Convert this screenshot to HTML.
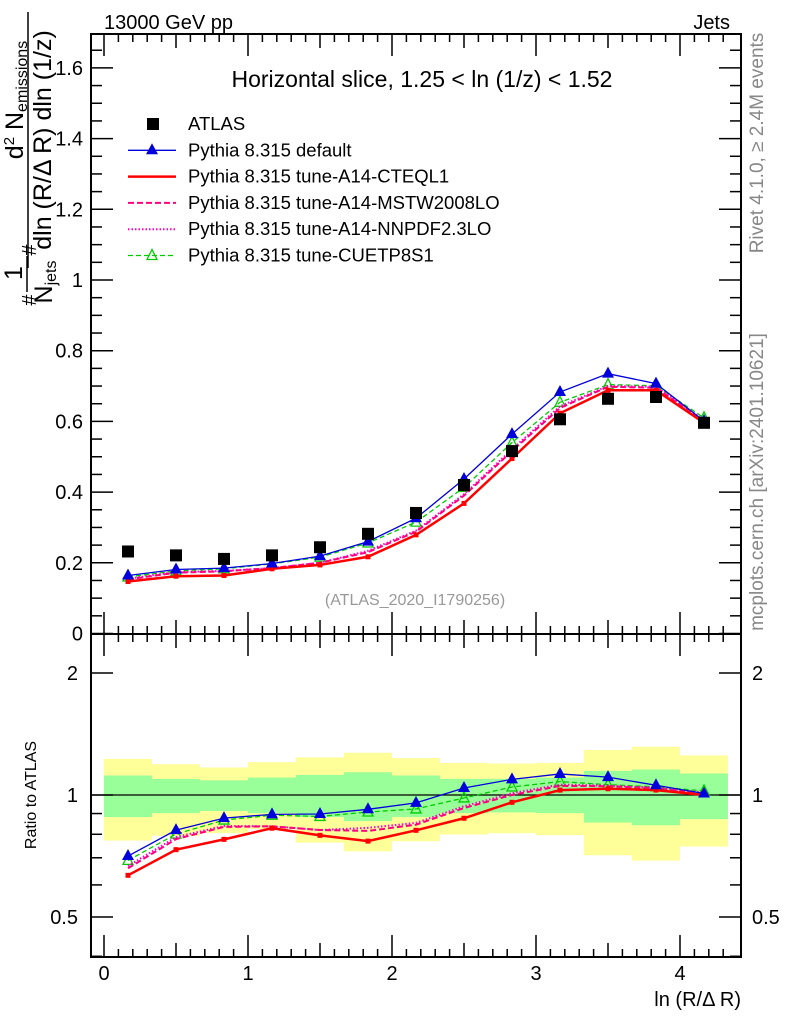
<!DOCTYPE html>
<html><head><meta charset="utf-8">
<style>
body{margin:0;background:#fff;}
svg{display:block;font-family:"Liberation Sans",sans-serif;}
</style></head>
<body>
<svg id="chart" width="786" height="1024" viewBox="0 0 786 1024" xmlns="http://www.w3.org/2000/svg">
<g id="bands"></g>
<g id="axes"></g>
<g id="series"></g>
<text x="104" y="29" font-size="20">13000 GeV pp</text>
<text x="730" y="29" font-size="20" text-anchor="end">Jets</text>
<text x="422" y="87" font-size="23" text-anchor="middle">Horizontal slice, 1.25 &lt; ln (1/z) &lt; 1.52</text>
<text x="415" y="605" font-size="16" fill="#999" text-anchor="middle">(ATLAS_2020_I1790256)</text>
<text transform="translate(763,143) rotate(-90)" font-size="19" fill="#888" text-anchor="middle">Rivet 4.1.0, ≥ 2.4M events</text>
<text transform="translate(763,482) rotate(-90)" font-size="19" fill="#888" text-anchor="middle">mcplots.cern.ch [arXiv:2401.10621]</text>
<text x="741" y="1006" font-size="20" text-anchor="end">ln (R/Δ R)</text>
<text transform="translate(36,795) rotate(-90)" font-size="16" text-anchor="middle">Ratio to ATLAS</text>
<g font-size="25">
<text transform="translate(36,300) rotate(-90)" text-anchor="middle" font-size="20">#</text>
<text transform="translate(22,273) rotate(-90)" text-anchor="middle">1</text>
<line x1="27" y1="256" x2="27" y2="292" stroke="#000" stroke-width="1.5"/>
<text transform="translate(52,282) rotate(-90)" text-anchor="middle">N<tspan font-size="16" dy="4">jets</tspan></text>
<text transform="translate(36,250) rotate(-90)" text-anchor="middle" font-size="20">#</text>
<text transform="translate(23,100) rotate(-90)" text-anchor="middle">d<tspan font-size="15" dy="-9">2</tspan><tspan dy="9"> N</tspan><tspan font-size="16" dy="4">emissions</tspan></text>
<line x1="28" y1="12" x2="28" y2="268" stroke="#000" stroke-width="1.5"/>
<text transform="translate(51,140) rotate(-90)" text-anchor="middle">dln (R/Δ R) dln (1/z)</text>
</g>
<g id="legend"></g>
</svg>
<script>
const xCenters=[0.1667,0.5,0.8333,1.1667,1.5,1.8333,2.1667,2.5,2.8333,3.1667,3.5,3.8333,4.1667];
const atlas=[0.232,0.221,0.211,0.221,0.244,0.282,0.341,0.420,0.516,0.606,0.664,0.669,0.596];
const pyDefault=[0.164,0.181,0.185,0.198,0.219,0.260,0.326,0.437,0.564,0.683,0.735,0.707,0.601];
const pyCTEQ=[0.147,0.162,0.164,0.183,0.194,0.217,0.279,0.368,0.495,0.623,0.688,0.688,0.596];
const pyMSTW=[0.153,0.172,0.176,0.185,0.200,0.230,0.288,0.390,0.516,0.638,0.698,0.695,0.601];
const pyNNPDF=[0.155,0.174,0.177,0.185,0.200,0.234,0.291,0.394,0.521,0.643,0.700,0.698,0.604];
const pyCUETP=[0.160,0.177,0.183,0.197,0.216,0.256,0.315,0.413,0.540,0.654,0.704,0.701,0.610];
const binEdges=[0,0.3333,0.6667,1,1.3333,1.6667,2,2.3333,2.6667,3,3.3333,3.6667,4,4.3333];
const totUp=[1.228,1.191,1.169,1.205,1.238,1.271,1.233,1.200,1.196,1.200,1.291,1.315,1.252];
const totDn=[0.772,0.793,0.805,0.824,0.763,0.726,0.769,0.799,0.805,0.796,0.710,0.689,0.746];
const statUp=[1.117,1.096,1.087,1.104,1.121,1.138,1.117,1.096,1.096,1.104,1.147,1.156,1.130];
const statDn=[0.882,0.902,0.913,0.902,0.882,0.862,0.882,0.902,0.906,0.902,0.855,0.842,0.872];
const mainTicks=[0,0.2,0.4,0.6,0.8,1,1.2,1.4,1.6];
const mainTickLabels=["0","0.2","0.4","0.6","0.8","1","1.2","1.4","1.6"];
const ratioTicks=[0.5,1,2];
const ratioTickLabels=["0.5","1","2"];
const xTicks=[0,1,2,3,4];
const xTickLabels=["0","1","2","3","4"];

const NS="http://www.w3.org/2000/svg";
const L=91,R=741,MT=34,MB=634,RT=634,RB=957;
const X=v=>104+v*144;
const Y=v=>633.5-v*353.5;
const YR=v=>795-Math.log2(v)*122;
function mk(tag,attrs,parent){const e=document.createElementNS(NS,tag);for(const k in attrs)e.setAttribute(k,attrs[k]);parent.appendChild(e);return e;}
const axes=document.getElementById('axes'),bands=document.getElementById('bands'),ser=document.getElementById('series'),leg=document.getElementById('legend');

for(let i=0;i<totUp.length;i++){
  const x0=X(binEdges[i]),x1=X(binEdges[i+1]);
  const y=mk('rect',{x:x0,y:YR(totUp[i]),width:x1-x0,height:YR(totDn[i])-YR(totUp[i]),fill:'#ffff99'},bands);
  
  
  const g=mk('rect',{x:x0,y:YR(statUp[i]),width:x1-x0,height:YR(statDn[i])-YR(statUp[i]),fill:'#99ff99'},bands);
  
  
}
const f1=mk('rect',{x:L,y:MT,width:R-L,height:MB-MT,fill:'none',stroke:'#000','stroke-width':2},axes);


const f2=mk('rect',{x:L,y:RT,width:R-L,height:RB-RT,fill:'none',stroke:'#000','stroke-width':2},axes);


const one=mk('line',{x1:L,x2:R,y1:YR(1),y2:YR(1),stroke:'#000','stroke-width':1.2},axes);


for(let v=0;v<=1.69;v+=0.05){
  const maj=Math.abs(v/0.2-Math.round(v/0.2))<1e-6, len=maj?22:11, y=Y(v);
  mk('line',{x1:L,x2:L+len,y1:y,y2:y,stroke:'#000','stroke-width':1.5},axes);
  mk('line',{x1:R,x2:R-len,y1:y,y2:y,stroke:'#000','stroke-width':1.5},axes);
}
mainTicks.forEach((v,i)=>{
  const t=mk('text',{x:83,y:Y(v)+7,'font-size':20,'text-anchor':'end'},axes);
  t.textContent=mainTickLabels[i];
  
  
});
[0.4,0.5,0.6,0.7,0.8,0.9,1,2].forEach(v=>{
  const maj=ratioTicks.includes(v),len=maj?22:11,y=YR(v);
  mk('line',{x1:L,x2:L+len,y1:y,y2:y,stroke:'#000','stroke-width':1.5},axes);
  mk('line',{x1:R,x2:R-len,y1:y,y2:y,stroke:'#000','stroke-width':1.5},axes);
});
ratioTicks.forEach((v,i)=>{
  const t=mk('text',{x:78,y:YR(v)+7,'font-size':20,'text-anchor':'end'},axes);
  t.textContent=ratioTickLabels[i];
  
  
  const t2=mk('text',{x:752,y:YR(v)+7,'font-size':20},axes);
  t2.textContent=ratioTickLabels[i];
  
  
});
for(let k=0;k<=43;k++){
  const v=k/10,x=X(v); if(x>R)break;
  const maj=k%10==0,len=maj?22:(k%5==0?14:8);
  [[MB,-1],[MT,1],[RB,-1],[RT,1]].forEach(([y0,d])=>mk('line',{x1:x,x2:x,y1:y0,y2:y0+d*len,stroke:'#000','stroke-width':1.5},axes));
}
xTicks.forEach((v,i)=>{
  const t=mk('text',{x:X(v),y:980,'font-size':20,'text-anchor':'middle'},axes);
  t.textContent=xTickLabels[i];
  
  
});

const defs=[
 {name:'pythia-cuetp8s1',data:pyCUETP,color:'#00cc00',w:1.3,dash:'5,3',marker:'otri'},
 {name:'pythia-nnpdf',data:pyNNPDF,color:'#ff00cc',w:2,dash:'1.5,2',marker:'none'},
 {name:'pythia-mstw',data:pyMSTW,color:'#ff0080',w:2,dash:'6,3',marker:'none'},
 {name:'pythia-cteq',data:pyCTEQ,color:'#ff0000',w:2.5,dash:'',marker:'sq'},
 {name:'pythia-default',data:pyDefault,color:'#0000dd',w:1.3,dash:'',marker:'tri'},
];
function marker(type,x,y,c,parent,name){
  let e=null;
  if(type==='tri')e=mk('polygon',{points:`${x},${y-7} ${x-6},${y+4} ${x+6},${y+4}`,fill:c},parent);
  else if(type==='otri')e=mk('polygon',{points:`${x},${y-6} ${x-5},${y+4} ${x+5},${y+4}`,fill:'none',stroke:c,'stroke-width':1.3},parent);
  else if(type==='sq')e=mk('rect',{x:x-2.5,y:y-2.5,width:5,height:5,fill:c},parent);
  else if(type==='big')e=mk('rect',{x:x-6,y:y-6,width:12,height:12,fill:c},parent);
  if(e){
  }
}
defs.forEach(s=>{
  const g=mk('g',{},ser);
  
  
  const pm=s.data.map((v,i)=>X(xCenters[i])+','+Y(v)).join(' ');
  const pr=s.data.map((v,i)=>X(xCenters[i])+','+YR(v/atlas[i])).join(' ');
  [pm,pr].forEach(p=>{
    const l=mk('polyline',{points:p,fill:'none',stroke:s.color,'stroke-width':s.w,'stroke-dasharray':s.dash},g);
    
    
  });
  s.data.forEach((v,i)=>{
    marker(s.marker,X(xCenters[i]),Y(v),s.color,g,s.name+'-point');
    marker(s.marker,X(xCenters[i]),YR(v/atlas[i]),s.color,g,s.name+'-ratio-point');
  });
});
atlas.forEach((v,i)=>marker('big',X(xCenters[i]),Y(v),'#000',ser,'atlas-point'));

const entries=[
 {label:'ATLAS',marker:'big',color:'#000',dash:null},
 {label:'Pythia 8.315 default',marker:'tri',color:'#0000dd',dash:'',w:1.3},
 {label:'Pythia 8.315 tune-A14-CTEQL1',marker:'none',color:'#ff0000',dash:'',w:2.5},
 {label:'Pythia 8.315 tune-A14-MSTW2008LO',marker:'none',color:'#ff0080',dash:'6,3',w:2},
 {label:'Pythia 8.315 tune-A14-NNPDF2.3LO',marker:'none',color:'#ff00cc',dash:'1.5,2',w:2},
 {label:'Pythia 8.315 tune-CUETP8S1',marker:'otri',color:'#00cc00',dash:'5,3',w:1.3},
];
entries.forEach((e,i)=>{
  const y=124+i*26.3;
  const g=mk('g',{},leg);
  
  
  if(e.dash!==null)mk('line',{x1:128,x2:176,y1:y,y2:y,stroke:e.color,'stroke-width':e.w,'stroke-dasharray':e.dash},g);
  marker(e.marker,e.marker==='big'?153:152,y,e.color,g,'legend-marker');
  const t=mk('text',{x:188,y:y+6,'font-size':18.5},g);
  t.textContent=e.label;
  
  
});
</script>
</body></html>
